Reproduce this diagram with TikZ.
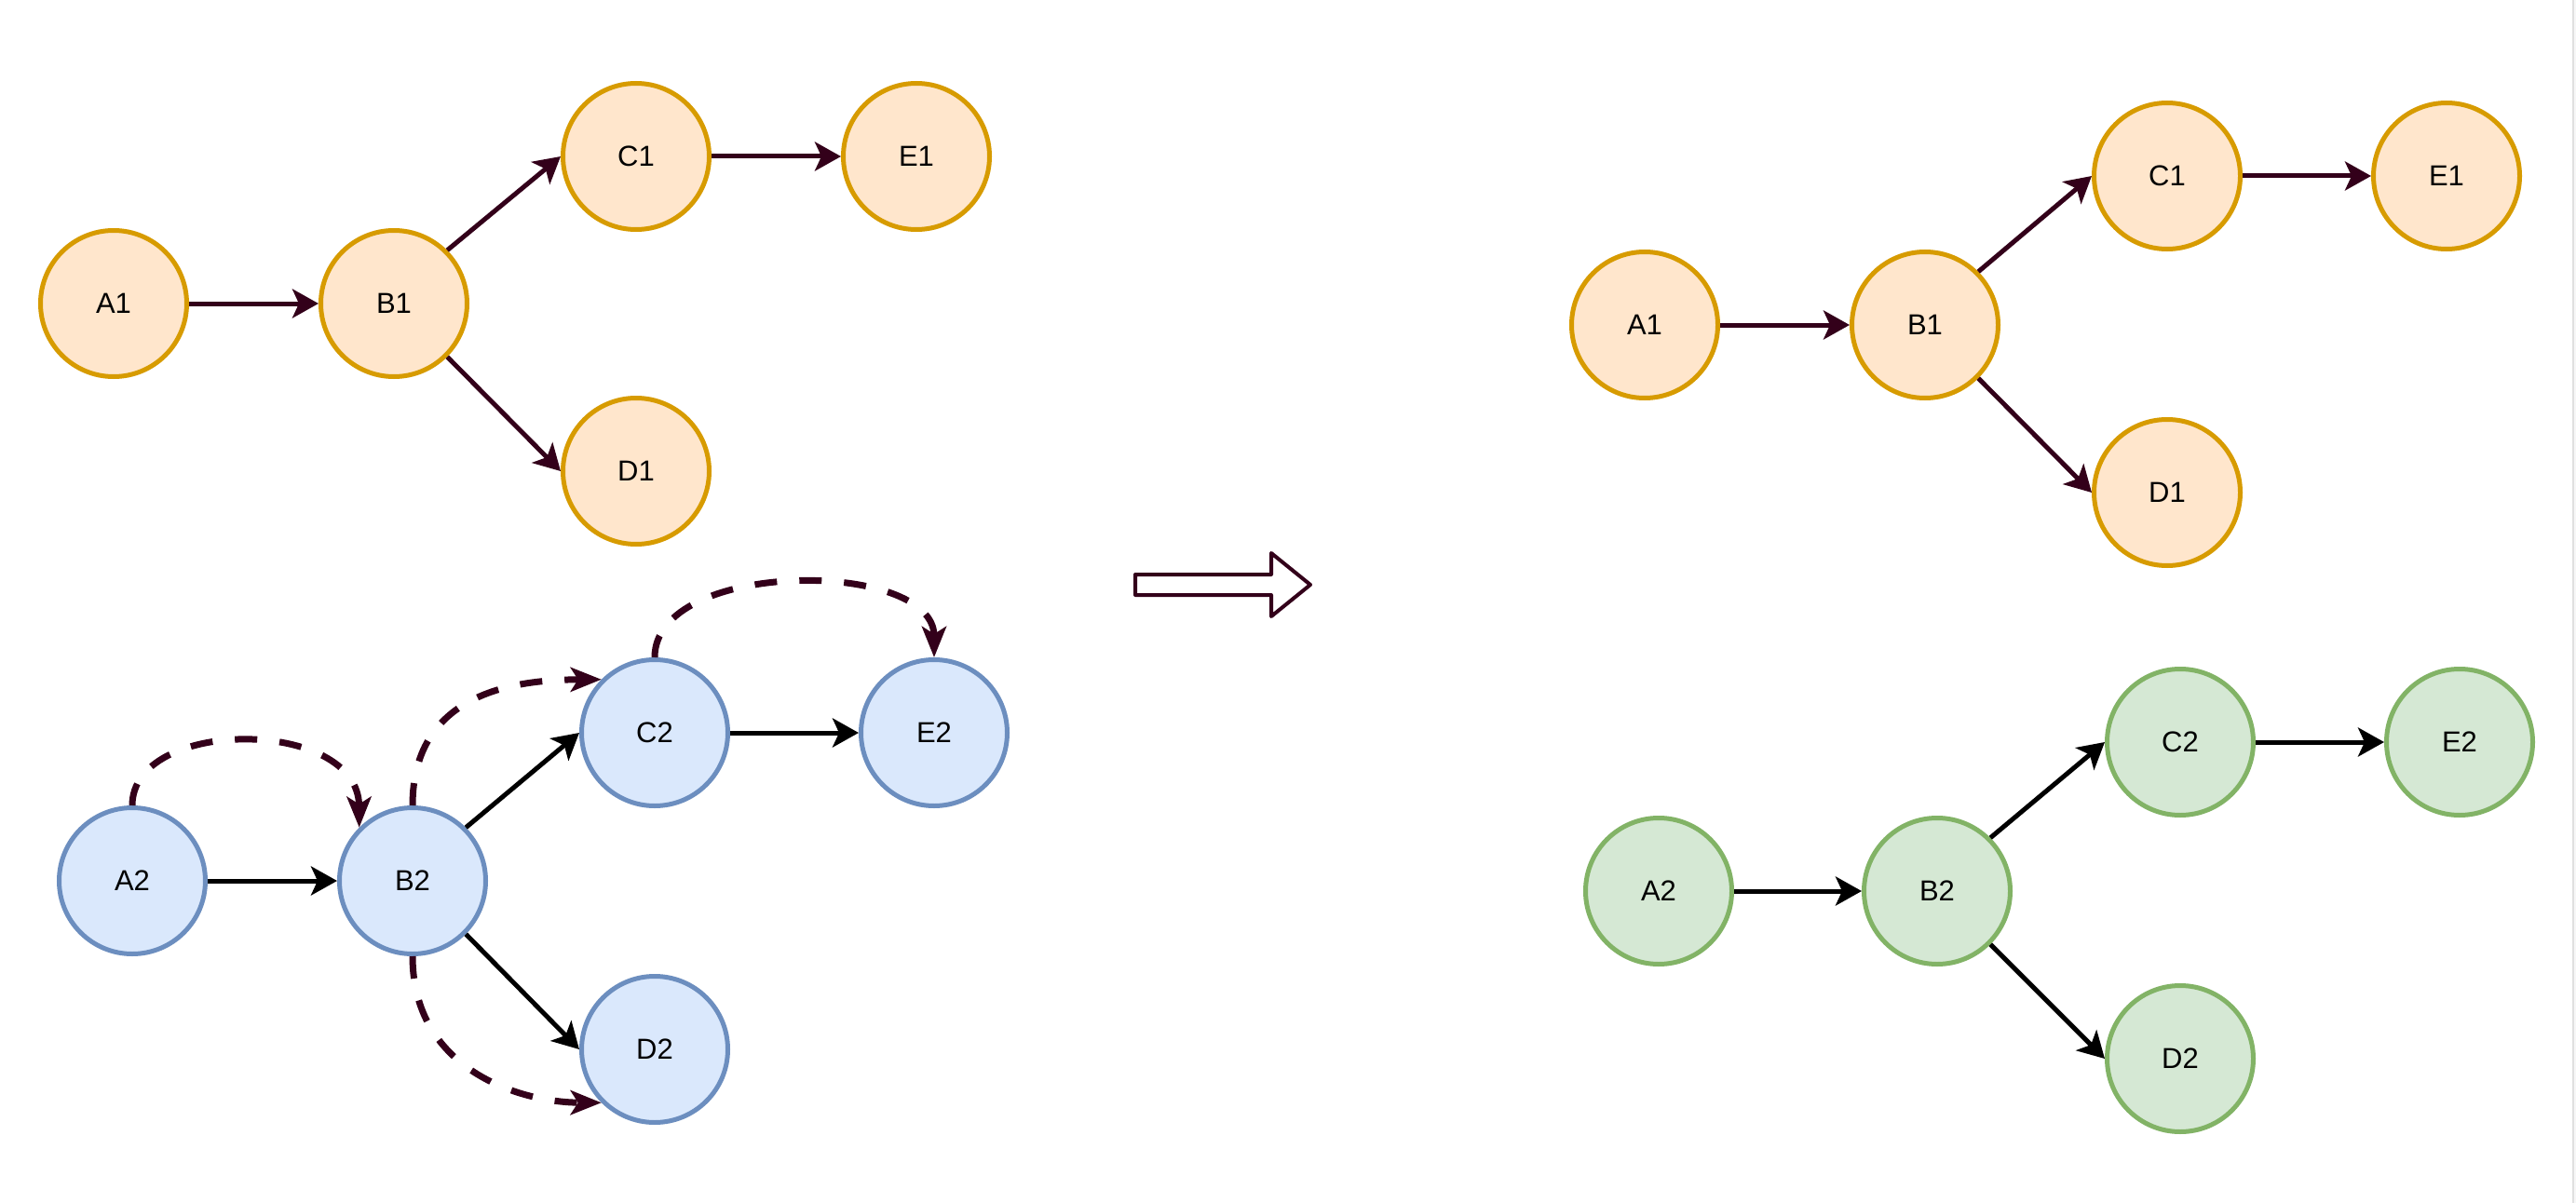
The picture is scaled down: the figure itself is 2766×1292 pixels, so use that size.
\documentclass[tikz,border=0pt]{standalone}
\usepackage{fontspec}
\setmainfont{Liberation Sans}
\usetikzlibrary{arrows.meta}
\definecolor{orfill}{HTML}{FFE6CC}
\definecolor{ordraw}{HTML}{D79B00}
\definecolor{blfill}{HTML}{DAE8FC}
\definecolor{bldraw}{HTML}{6C8EBF}
\definecolor{grfill}{HTML}{D5E8D4}
\definecolor{grdraw}{HTML}{82B366}
\definecolor{maroon}{HTML}{33001A}
\tikzset{
  vtx/.style={circle, minimum size=157pt, inner sep=0pt, line width=5pt,
    font=\fontsize{31}{36}\selectfont},
  orv/.style={vtx, draw=ordraw, fill=orfill},
  blv/.style={vtx, draw=bldraw, fill=blfill},
  grv/.style={vtx, draw=grdraw, fill=grfill},
  edgem/.style={draw=maroon, line width=5pt, -{Stealth[length=28pt, width=31pt, inset=7pt]}},
  edgek/.style={draw=black, line width=5pt, -{Stealth[length=28pt, width=31pt, inset=7pt]}},
  dashedge/.style={draw=maroon, line width=7pt, dash pattern=on 24pt off 24pt,
    -{Stealth[length=33pt, width=26pt, inset=8pt]}},
}
\begin{document}
\begin{tikzpicture}[x=1pt, y=-1pt]
\useasboundingbox (0,0) rectangle (2766,1292);
\fill[white] (0,0) rectangle (2766,1292);
\fill[black!3] (2762,0) rectangle (2766,1292);
\draw[black!12, line width=2.5pt] (2763,0) -- (2763,1292);

% top-left orange
\node[orv] (lA1) at (122,326) {A1};
\node[orv] (lB1) at (423,326) {B1};
\node[orv] (lC1) at (683,168) {C1};
\node[orv] (lE1) at (984,168) {E1};
\node[orv] (lD1) at (683,506) {D1};
\draw[edgem] (lA1.east) -- (lB1.west);
\draw[edgem] (lB1.45) -- (lC1.west);
\draw[edgem] (lB1.-45) -- (lD1.west);
\draw[edgem] (lC1.east) -- (lE1.west);

% bottom-left blue
\node[blv] (lA2) at (142,946) {A2};
\node[blv] (lB2) at (443,946) {B2};
\node[blv] (lC2) at (703,787) {C2};
\node[blv] (lE2) at (1003,787) {E2};
\node[blv] (lD2) at (703,1127) {D2};
\draw[edgek] (lA2.east) -- (lB2.west);
\draw[edgek] (lB2.45) -- (lC2.west);
\draw[edgek] (lB2.-45) -- (lD2.west);
\draw[edgek] (lC2.east) -- (lE2.west);

% dashed curves
\draw[dashedge] (lA2.north) .. controls (142,770) and (385,770) .. (lB2.135);
\draw[dashedge] (lB2.north) .. controls (443,740) and (560,730) .. (lC2.135);
\draw[dashedge] (lB2.south) .. controls (443,1150) and (560,1184) .. (lD2.225);
\draw[dashedge] (lC2.north) .. controls (703,600) and (1003,600) .. (lE2.north);

% hollow arrow
\draw[maroon, line width=4pt, line join=round, fill=white]
  (1219,617) -- (1365,617) -- (1365,594) -- (1407,628) -- (1365,662) -- (1365,639) -- (1219,639) -- cycle;

% right orange
\node[orv] (rA1) at (1766,349) {A1};
\node[orv] (rB1) at (2067,349) {B1};
\node[orv] (rC1) at (2327,189) {C1};
\node[orv] (rE1) at (2627,189) {E1};
\node[orv] (rD1) at (2327,529) {D1};
\draw[edgem] (rA1.east) -- (rB1.west);
\draw[edgem] (rB1.45) -- (rC1.west);
\draw[edgem] (rB1.-45) -- (rD1.west);
\draw[edgem] (rC1.east) -- (rE1.west);

% right green
\node[grv] (rA2) at (1781,957) {A2};
\node[grv] (rB2) at (2080,957) {B2};
\node[grv] (rC2) at (2341,797) {C2};
\node[grv] (rE2) at (2641,797) {E2};
\node[grv] (rD2) at (2341,1137) {D2};
\draw[edgek] (rA2.east) -- (rB2.west);
\draw[edgek] (rB2.45) -- (rC2.west);
\draw[edgek] (rB2.-45) -- (rD2.west);
\draw[edgek] (rC2.east) -- (rE2.west);
\end{tikzpicture}
\end{document}
